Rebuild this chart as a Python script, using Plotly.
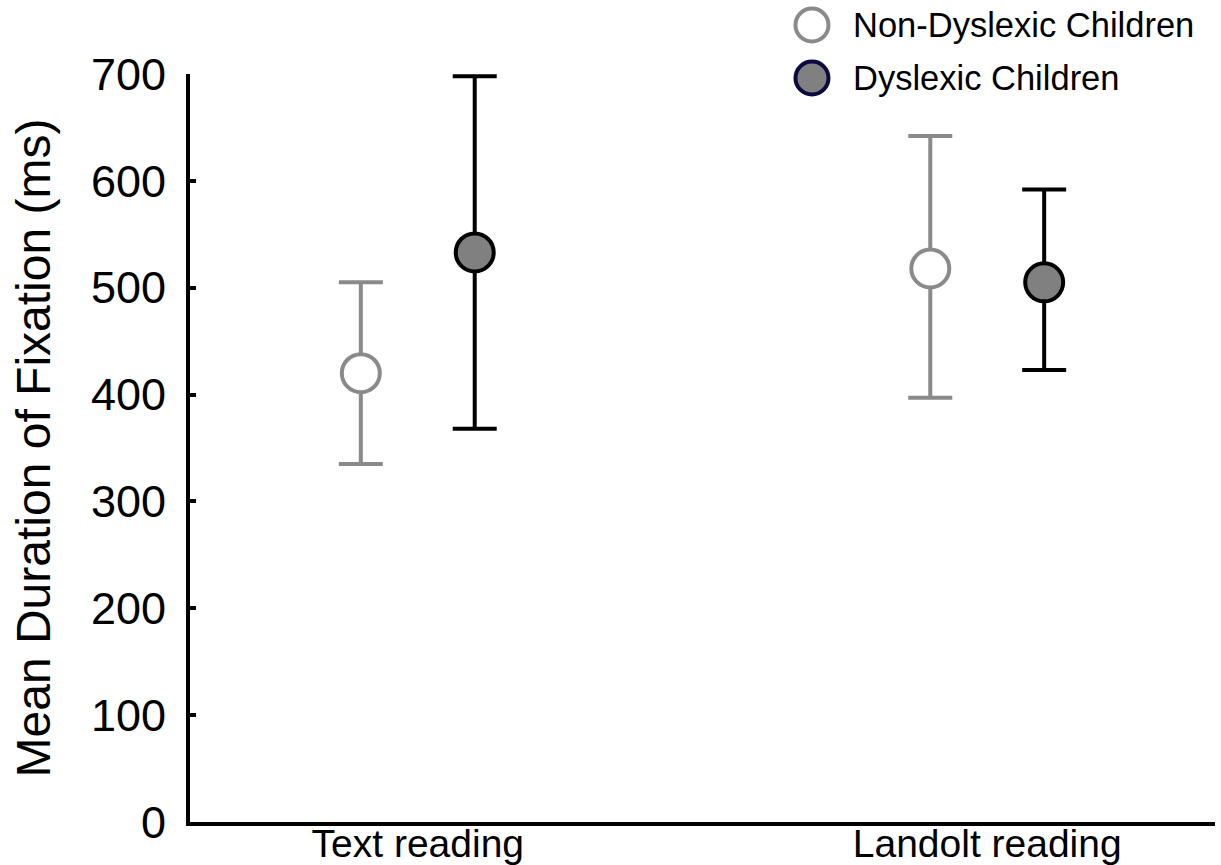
import plotly.graph_objects as go

# ---- data ----
categories = ["Text reading", "Landolt reading"]
cat_pos = [1, 2]
group_offset = 0.1

nondys_mean = [420, 518]
nondys_plus = [85, 124]
nondys_minus = [85, 121]

dys_mean = [533, 505]
dys_plus = [165, 87]
dys_minus = [165, 82]

y_ticks = [0, 100, 200, 300, 400, 500, 600, 700]

FONT = "Arial, 'Liberation Sans', sans-serif"
GRAY = "#8a8a8a"
DARK_FILL = "#808080"

fig = go.Figure()

fig.add_trace(go.Scatter(
    x=[c - group_offset for c in cat_pos], y=nondys_mean,
    mode="markers", name="Non-Dyslexic Children",
    marker=dict(size=38, color="white", line=dict(color=GRAY, width=4)),
    error_y=dict(type="data", symmetric=False, array=nondys_plus, arrayminus=nondys_minus,
                 color=GRAY, thickness=4, width=22),
    cliponaxis=False, showlegend=False,
))
fig.add_trace(go.Scatter(
    x=[c + group_offset for c in cat_pos], y=dys_mean,
    mode="markers", name="Dyslexic Children",
    marker=dict(size=38, color=DARK_FILL, line=dict(color="black", width=4)),
    error_y=dict(type="data", symmetric=False, array=dys_plus, arrayminus=dys_minus,
                 color="black", thickness=4, width=22),
    cliponaxis=False, showlegend=False,
))

# ---- custom legend (large circles like the reference) ----
legend_items = [
    ("Non-Dyslexic Children", "white", GRAY, 1.0655),
    ("Dyslexic Children", DARK_FILL, "#0a0a40", 0.9947),
]
for label, fill, edge, ypos in legend_items:
    fig.add_shape(type="circle", xref="paper", yref="paper",
                  xsizemode="pixel", ysizemode="pixel",
                  xanchor=0.6068, yanchor=ypos,
                  x0=-16.5, x1=16.5, y0=-16.5, y1=16.5,
                  fillcolor=fill, line=dict(color=edge, width=4))
    fig.add_annotation(x=0.645, y=ypos, xref="paper", yref="paper",
                       text=label, showarrow=False, xanchor="left", yanchor="middle",
                       font=dict(family=FONT, size=34.5, color="black"))

fig.update_layout(
    width=1221, height=865,
    margin=dict(l=190, r=6, t=74, b=43),
    paper_bgcolor="white", plot_bgcolor="white",
    font=dict(family=FONT, color="black"),
    showlegend=False,
)
fig.update_xaxes(
    range=[0.6, 2.4], tickvals=cat_pos, ticktext=categories,
    showline=True, linewidth=4, linecolor="black",
    showgrid=False, zeroline=False, ticks="",
    tickfont=dict(family=FONT, size=39, color="black"),
    ticklabelstandoff=-16,
    automargin=False,
)
fig.update_yaxes(
    range=[0, 700], tickvals=y_ticks,
    showline=True, linewidth=4, linecolor="black",
    showgrid=False, zeroline=False,
    ticks="inside", ticklen=6, tickwidth=4, tickcolor="black",
    tickfont=dict(family=FONT, size=45, color="black"),
    ticklabelstandoff=11,
    title=dict(text="Mean Duration of Fixation (ms)", font=dict(family=FONT, size=48, color="black"),
               standoff=26),
    automargin=False,
)

fig.write_html(
    "out.html",
    config={"displayModeBar": False},
    post_script="document.body.style.margin='0';document.body.style.overflow='hidden';",
)
